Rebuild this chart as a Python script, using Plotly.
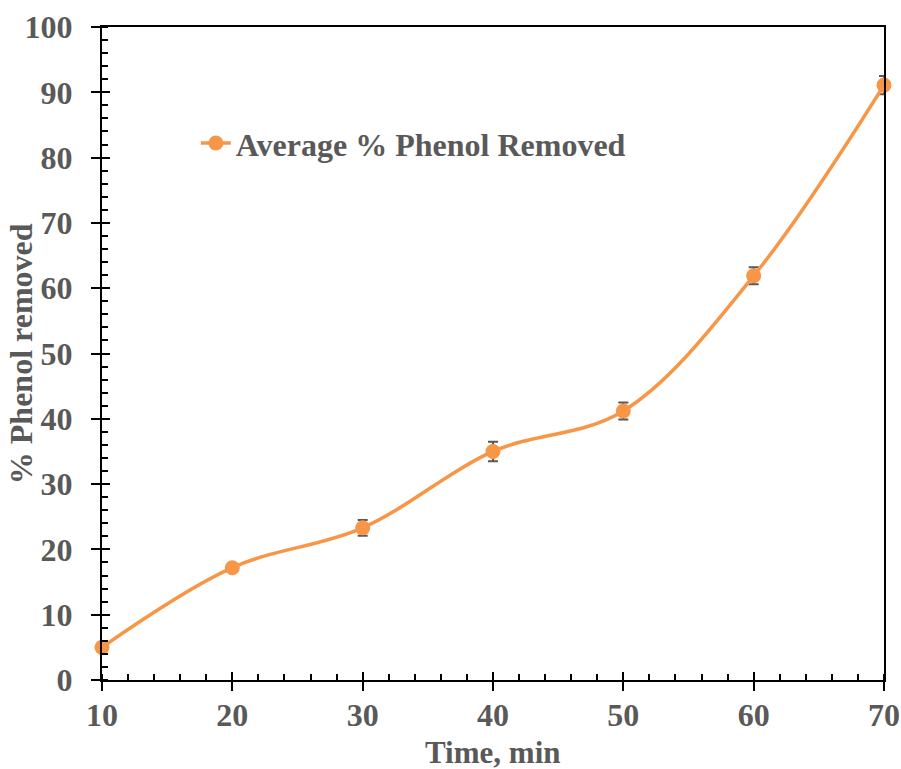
import plotly.graph_objects as go

time_min = [10, 20, 30, 40, 50, 60, 70]
phenol_removed = [5.0, 17.2, 23.3, 35.0, 41.2, 61.9, 91.1]
error_sd = [0.4, 0.5, 1.2, 1.5, 1.3, 1.3, 1.4]
x_ticks = [10, 20, 30, 40, 50, 60, 70]
y_ticks = list(range(0, 101, 10))

ORANGE = "#F79646"
GRAY = "#595959"
FONT = "Liberation Serif, Times New Roman, serif"

fig = go.Figure()
fig.add_trace(go.Scatter(
    x=time_min, y=phenol_removed,
    mode="lines+markers",
    name="<b>Average % Phenol Removed</b>",
    line=dict(color=ORANGE, width=3.5, shape="spline", smoothing=1.0),
    marker=dict(color=ORANGE, size=15),
    error_y=dict(type="data", array=error_sd, color=GRAY, thickness=2, width=5),
    cliponaxis=False,
))
# invisible trace to host the overlay axes that draw the inner half of major ticks
fig.add_trace(go.Scatter(x=[time_min[0]], y=[0], xaxis="x2", yaxis="y2",
                         mode="markers", marker=dict(opacity=0), showlegend=False,
                         hoverinfo="skip"))

tickfont = dict(family=FONT, size=32, color=GRAY)

fig.update_layout(
    width=901, height=769,
    margin=dict(l=102, r=17, t=27, b=89, autoexpand=False),
    plot_bgcolor="white", paper_bgcolor="white",
    showlegend=True,
    legend=dict(x=0.12, y=0.822, xanchor="left", yanchor="middle",
                font=dict(family=FONT, size=32, color=GRAY),
                bgcolor="rgba(0,0,0,0)"),
    xaxis=dict(range=[10, 70], tickvals=x_ticks,
               ticktext=["<b>%d</b>" % v for v in x_ticks],
               showgrid=False, zeroline=False, automargin=False,
               showline=True, linecolor="black", linewidth=2, mirror=True,
               ticks="outside", ticklen=9, tickwidth=2, tickcolor="black",
               minor=dict(ticks="inside", dtick=2, ticklen=6, tickwidth=2, tickcolor="black"),
               tickfont=tickfont, ticklabelstandoff=-3),
    yaxis=dict(range=[0, 100], tickvals=y_ticks,
               ticktext=["<b>%d</b>" % v for v in y_ticks],
               showgrid=False, zeroline=False, automargin=False,
               showline=True, linecolor="black", linewidth=2, mirror=True,
               ticks="outside", ticklen=9, tickwidth=2, tickcolor="black",
               minor=dict(ticks="inside", dtick=2, ticklen=6, tickwidth=2, tickcolor="black"),
               tickfont=tickfont, ticklabelstandoff=12),
    xaxis2=dict(range=[10, 70], overlaying="x", side="bottom", showticklabels=False,
                showgrid=False, zeroline=False, showline=False, automargin=False,
                ticks="inside", ticklen=8, tickwidth=2, tickcolor="black",
                tickvals=x_ticks),
    yaxis2=dict(range=[0, 100], overlaying="y", side="left", showticklabels=False,
                showgrid=False, zeroline=False, showline=False, automargin=False,
                ticks="inside", ticklen=8, tickwidth=2, tickcolor="black",
                tickvals=y_ticks),
    annotations=[
        dict(text="<b>Time, min</b>", xref="paper", yref="paper", x=0.5, y=-0.111,
             xanchor="center", yanchor="middle", showarrow=False,
             font=dict(family=FONT, size=31, color=GRAY)),
        dict(text="<b>% Phenol removed</b>", xref="paper", yref="paper",
             x=-0.104, y=0.5, xanchor="center", yanchor="middle", textangle=-90,
             showarrow=False, font=dict(family=FONT, size=32, color=GRAY)),
    ],
)

fig.write_html("out.html")
